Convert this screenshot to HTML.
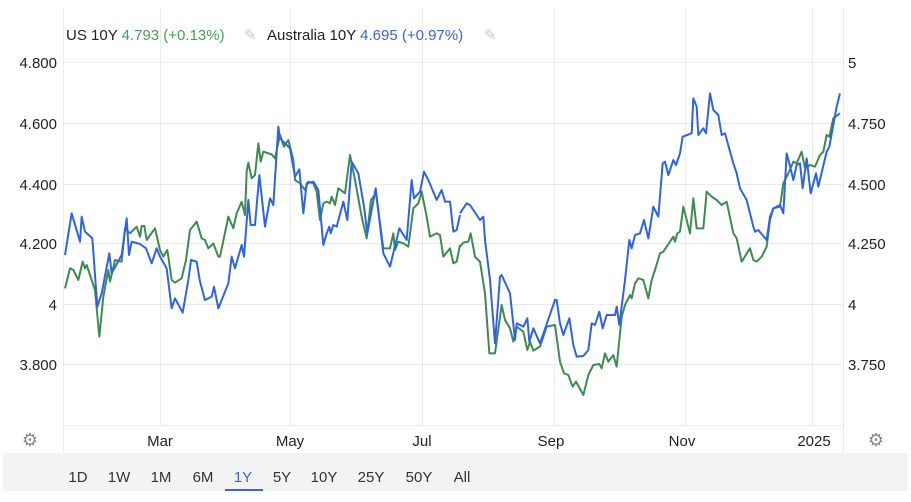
<!DOCTYPE html>
<html><head><meta charset="utf-8"><style>
body{margin:0;background:#fff;width:911px;height:497px;overflow:hidden;font-family:"Liberation Sans",sans-serif;}
</style></head><body>
<svg width="911" height="497" viewBox="0 0 911 497" xmlns="http://www.w3.org/2000/svg" font-family="Liberation Sans, sans-serif">
<g stroke="#ebebeb" stroke-width="1">
<line x1="63" y1="62.5" x2="843" y2="62.5"/><line x1="63" y1="123.5" x2="843" y2="123.5"/><line x1="63" y1="184.5" x2="843" y2="184.5"/><line x1="63" y1="243.5" x2="843" y2="243.5"/><line x1="63" y1="304.5" x2="843" y2="304.5"/><line x1="63" y1="364.5" x2="843" y2="364.5"/>
<line x1="63.5" y1="8" x2="63.5" y2="455"/><line x1="160.5" y1="8" x2="160.5" y2="425"/><line x1="290.5" y1="8" x2="290.5" y2="425"/><line x1="422.5" y1="8" x2="422.5" y2="425"/><line x1="554.5" y1="8" x2="554.5" y2="425"/><line x1="685.5" y1="8" x2="685.5" y2="425"/><line x1="812.5" y1="8" x2="812.5" y2="425"/><line x1="843.5" y1="8" x2="843.5" y2="455"/>
<line x1="63" y1="425.5" x2="843" y2="425.5"/>
</g>
<g font-size="15" fill="#222" text-anchor="end">
<text x="57" y="68">4.800</text><text x="57" y="129">4.600</text><text x="57" y="190">4.400</text><text x="57" y="249">4.200</text><text x="57" y="310">4</text><text x="57" y="370">3.800</text>
</g>
<g font-size="15" fill="#222">
<text x="848" y="68">5</text><text x="848" y="129">4.750</text><text x="848" y="190">4.500</text><text x="848" y="249">4.250</text><text x="848" y="310">4</text><text x="848" y="370">3.750</text>
</g>
<g font-size="15" fill="#222" text-anchor="middle">
<text x="160" y="446">Mar</text><text x="290" y="446">May</text><text x="422" y="446">Jul</text><text x="551" y="446">Sep</text><text x="682" y="446">Nov</text><text x="814" y="446">2025</text>
</g>
<text x="66" y="40" font-size="15" fill="#222">US 10Y <tspan fill="#4a9a5a">4.793 (+0.13%)</tspan></text>
<text x="244" y="40" font-size="15" fill="#c8c8c8">✎</text>
<text x="267" y="40" font-size="15" fill="#222">Australia 10Y <tspan fill="#3b63e0">4.695 (+0.97%)</tspan></text>
<text x="484" y="40" font-size="15" fill="#c8c8c8">✎</text>
<g fill="none" stroke-width="2" stroke-linejoin="round">
<g transform="translate(60,120) scale(0.33333)">
<polyline vector-effect="non-scaling-stroke" stroke="#3d8b4f" points="15,505 30,445 40,450 55,480 68,425 75,445 80,435 105,510 118,650 130,530 145,450 150,485 165,420 185,425 195,325 210,340 230,320 240,350 245,318 253,318 260,360 285,325 300,390 310,410 322,390 335,480 345,488 365,475 378,420 390,330 410,305 425,355 435,360 445,385 460,370 475,410 480,410 505,290 520,325 530,280 545,245 555,285 560,155 565,128 575,175 585,165 595,70 602,125 610,95 635,103 645,115 660,45 672,80 685,60 700,120 705,180 720,190 735,210 745,185 760,190 770,215 780,300 790,250 800,245 810,250 815,230 825,255 835,205 855,220 870,105 885,180 905,290 920,355 933,240 948,220 970,385 990,385 1000,340 1005,390 1015,365 1030,370 1045,380 1060,265 1075,250 1085,215 1100,290 1110,350 1130,340 1140,345 1150,410 1170,385 1180,430 1190,425 1200,375"/>
<polyline vector-effect="non-scaling-stroke" stroke="#2f63e6" points="15,405 35,280 60,365 65,290 75,335 97,355 112,560 125,520 148,400 155,460 185,405 200,295 207,405 215,365 240,372 258,385 275,430 290,385 300,410 320,445 335,565 345,535 368,578 385,480 393,420 410,425 420,485 435,540 455,530 462,500 475,565 505,490 515,410 525,445 545,375 552,410 565,240 572,315 585,315 598,165 615,320 630,235 640,255 655,20 660,55 690,85 705,170 718,148 730,280 740,190 760,185 775,210 790,375 800,340 808,320 812,340 820,315 830,320 850,245 862,300 875,125 895,160 912,260 922,340 947,205 970,400 990,440 1018,325 1040,360 1055,180 1062,235 1080,215 1092,155 1105,180 1130,240 1145,210 1155,245 1170,245 1180,335 1190,330 1200,285"/>
</g>
<g transform="translate(440,80) scale(0.33333)">
<polyline vector-effect="non-scaling-stroke" stroke="#3d8b4f" points="60,500 70,488 85,485 92,460 105,530 120,545 135,640 148,820 165,820 185,675 195,720 210,745 220,785 230,740 250,755 262,810 270,785 280,812 300,800 320,740 345,735 360,845 372,880 385,885 398,920 408,905 430,945 445,885 460,855 478,852 485,865 495,820 505,845 520,825 530,860 545,710 555,675 570,645 575,655 585,610 595,595 610,600 625,655 635,600 645,570 660,520 670,515 680,500 700,470 705,485 712,460 720,455 730,380 745,440 750,460 760,355 770,445 790,445 800,335 815,350 830,360 845,375 860,365 880,460 890,475 905,545 930,505 940,540 950,545 965,530 980,500 990,420 1000,385 1020,380 1030,310 1045,280 1060,245 1070,250 1085,215 1095,265 1110,255 1125,260 1140,225 1150,215 1160,165 1168,170 1180,115 1200,100"/>
<polyline vector-effect="non-scaling-stroke" stroke="#2f63e6" points="60,400 80,370 90,375 120,420 130,410 135,480 150,600 165,790 180,590 185,585 210,640 225,780 230,730 250,740 262,715 268,785 280,745 300,790 345,660 350,660 360,730 370,765 388,715 400,795 410,830 430,828 445,810 455,730 465,735 478,695 488,745 500,705 525,705 530,680 538,735 555,600 568,480 575,505 585,465 600,460 612,420 625,475 640,380 655,410 668,250 675,245 685,285 700,240 708,255 720,220 728,170 755,160 760,55 770,80 775,165 790,145 798,160 810,40 820,90 835,105 845,165 855,160 880,250 890,280 900,325 920,360 940,440 945,455 955,450 980,480 990,410 1000,385 1020,375 1030,400 1040,220 1048,250 1060,300 1070,255 1080,250 1088,325 1100,235 1112,340 1128,280 1135,320 1160,215 1168,200 1190,80 1200,40"/>
</g>
</g>
<text x="30" y="446" font-size="18" fill="#888" text-anchor="middle">⚙</text>
<text x="876" y="446" font-size="18" fill="#888" text-anchor="middle">⚙</text>
<rect x="3" y="453" width="905" height="38" fill="#f3f3f3"/>
<g font-size="15" fill="#333" text-anchor="middle">
<text x="78" y="482">1D</text><text x="119" y="482">1W</text><text x="161" y="482">1M</text><text x="203" y="482">6M</text><text x="243" y="482" fill="#3b63e0">1Y</text><text x="282" y="482">5Y</text><text x="324" y="482">10Y</text><text x="371" y="482">25Y</text><text x="419" y="482">50Y</text><text x="462" y="482">All</text>
</g>
<rect x="225" y="489" width="38" height="2" fill="#3b63e0"/>
</svg>
</body></html>
